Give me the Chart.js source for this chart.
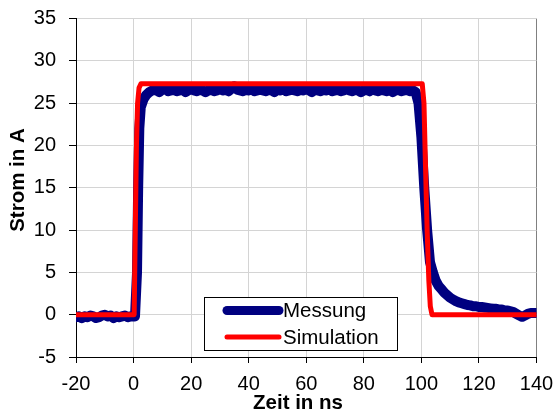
<!DOCTYPE html>
<html>
<head>
<meta charset="utf-8">
<script src="https://cdn.jsdelivr.net/npm/chart.js@4/dist/chart.umd.min.js"></script>
<style>
  body { margin: 0; background: #fff; }
</style>
</head>
<body>
<canvas id="chart" width="553" height="414"></canvas>
<script>
// Messung (gemessener Strom) - Zeit in ns / Strom in A
const messT = [
    -20, -19, -18, -17, -16, -15, -14, -13, -12, -11, -10, -9, -8, -7, -6, -5, -4, -3, -2, -1,
    0.5, 1.2, 1.6, 2, 2.5, 3.5, 4.5, 5.5,
    6, 7, 8, 9, 10, 11, 12, 13, 14, 15,
    16, 17, 18, 19, 20, 21, 22, 23, 24, 25,
    26, 27, 28, 29, 30, 31, 32, 33, 34, 35,
    36, 37, 38, 39, 40, 41, 42, 43, 44, 45,
    46, 47, 48, 49, 50, 51, 52, 53, 54, 55,
    56, 57, 58, 59, 60, 61, 62, 63, 64, 65,
    66, 67, 68, 69, 70, 71, 72, 73, 74, 75,
    76, 77, 78, 79, 80, 81, 82, 83, 84, 85,
    86, 87, 88, 89, 90, 91, 92, 93, 94, 95,
    96, 97, 98, 99, 100, 101, 102, 103, 104, 105,
    106, 107, 108, 109, 110, 111, 112, 113, 114, 115,
    116, 117, 118, 119, 120, 121, 122, 123, 124, 125,
    126, 127, 128, 129, 130, 131, 132, 133, 134, 135,
    136, 137, 138, 139, 140
];
const messA = [
    -0.3, -0.2, -0.4, -0.2, -0.3, -0.1, -0.2, -0.4, -0.3, -0.1, 0.0, -0.2, -0.1, -0.4, -0.2, -0.3, -0.2, -0.1, -0.3, -0.2,
    -0.2, 5, 15, 22, 24.5, 25.5, 26.0, 26.3,
    26.4, 26.6, 26.5, 26.3, 26.6, 26.7, 26.4, 26.5, 26.6, 26.4,
    26.5, 26.6, 26.3, 26.5, 26.7, 26.5, 26.4, 26.6, 26.5, 26.3,
    26.5, 26.6, 26.4, 26.5, 26.7, 26.5, 26.6, 26.4, 26.7, 27.0,
    26.6, 26.5, 26.4, 26.6, 26.5, 26.7, 26.4, 26.5, 26.6, 26.5,
    26.4, 26.6, 26.5, 26.3, 26.6, 26.5, 26.7, 26.4, 26.5, 26.6,
    26.5, 26.4, 26.6, 26.5, 26.7, 26.5, 26.3, 26.6, 26.5, 26.4,
    26.6, 26.5, 26.7, 26.4, 26.5, 26.6, 26.4, 26.5, 26.7, 26.5,
    26.4, 26.6, 26.5, 26.3, 26.5, 26.6, 26.4, 26.7, 26.5, 26.4,
    26.6, 26.5, 26.4, 26.6, 26.3, 26.5, 26.6, 26.4, 26.5, 26.6,
    26.4, 26.5, 26.3, 25.0, 21.0, 15.0, 10.0, 6.2, 5.0, 4.0,
    3.4, 3.0, 2.6, 2.3, 2.0, 1.8, 1.6, 1.45, 1.35, 1.25,
    1.15, 1.1, 1.0, 1.0, 0.9, 0.9, 0.85, 0.8, 0.75, 0.7,
    0.7, 0.6, 0.6, 0.5, 0.5, 0.4, 0.3, 0.1, -0.1, -0.25,
    -0.1, 0.1, 0.2, 0.2, 0.2
];

// Simulation
const simT = [-20, 0.2, 0.6, 1.0, 1.4, 1.9, 2.6, 100.3, 100.9, 101.4, 102.0, 102.6, 103.1, 103.7, 140];
const simA = [0, 0, 10, 20, 25, 26.8, 27.3, 27.3, 25, 18, 10, 4, 1, 0, 0];

const xTicks = [-20, 0, 20, 40, 60, 80, 100, 120, 140];
const yTicks = [-5, 0, 5, 10, 15, 20, 25, 30, 35];

const seriesNames = ["Messung", "Simulation"];
const seriesColors = ["#000080", "#ff0000"];
const xTitle = "Zeit in ns";
const yTitle = "Strom in A";

const FONT = "'Liberation Sans', Arial, sans-serif";

function toPoints(xs, ys) {
    return xs.map((x, i) => ({ x: x, y: ys[i] }));
}

function gridColor(ctx) {
    return ctx.tick && ctx.tick.value === 140 ? "#808080" : "#d4d4d4";
}

// legend box inside the plot + axis titles, like the original
const extras = {
    id: "extras",
    afterDraw(chart) {
        const ctx = chart.ctx;
        const x0 = 204.5, y0 = 297.5, w = 193, h = 53;
        ctx.save();
        ctx.fillStyle = "#fff";
        ctx.fillRect(x0, y0, w, h);
        ctx.strokeStyle = "#000";
        ctx.lineWidth = 1;
        ctx.strokeRect(x0, y0, w, h);
        ctx.lineCap = "round";
        ctx.font = "20.5px " + FONT;
        ctx.textBaseline = "middle";
        ctx.fillStyle = "#000";
        const widths = [9, 5];
        const rows = [310.5, 337];
        seriesNames.forEach((name, i) => {
            ctx.strokeStyle = seriesColors[i];
            ctx.lineWidth = widths[i];
            ctx.beginPath();
            ctx.moveTo(227, rows[i]);
            ctx.lineTo(279, rows[i]);
            ctx.stroke();
            ctx.fillText(name, 283, rows[i] + 1);
        });

        // axis titles
        ctx.font = "bold 20.5px " + FONT;
        ctx.textAlign = "center";
        ctx.fillText(xTitle, 298, 403);
        ctx.translate(18, 180);
        ctx.rotate(-Math.PI / 2);
        ctx.fillText(yTitle, 0, 0);
        ctx.restore();
    }
};

new Chart(document.getElementById("chart"), {
    type: "line",
    data: {
        datasets: [
            {
                label: seriesNames[0],
                data: toPoints(messT, messA),
                borderColor: seriesColors[0],
                borderWidth: 10,
                pointRadius: 0,
                tension: 0,
                borderCapStyle: "round",
                borderJoinStyle: "round",
                order: 2
            },
            {
                label: seriesNames[1],
                data: toPoints(simT, simA),
                borderColor: seriesColors[1],
                borderWidth: 5,
                pointRadius: 0,
                tension: 0,
                borderCapStyle: "round",
                borderJoinStyle: "round",
                order: 1
            }
        ]
    },
    options: {
        responsive: false,
        animation: false,
        devicePixelRatio: 1,
        layout: { padding: { top: 18.5, right: 16.5, left: 0, bottom: 0 } },
        plugins: {
            legend: { display: false },
            tooltip: { enabled: false }
        },
        scales: {
            x: {
                type: "linear",
                min: -20,
                max: 140,
                afterBuildTicks: s => { s.ticks = xTicks.map(v => ({ value: v })); },
                afterFit: s => { s.height = 57; s.paddingLeft = 0; s.paddingRight = 0; },
                ticks: { color: "#000", font: { family: FONT, size: 20 }, padding: 9, maxRotation: 0 },
                grid: { color: gridColor, tickColor: "#000", tickLength: 6 },
                border: { color: "#000", width: 1 },
                title: { display: false }
            },
            y: {
                min: -5,
                max: 35,
                afterBuildTicks: s => { s.ticks = yTicks.map(v => ({ value: v })); },
                afterFit: s => { s.width = 76; s.paddingTop = 0; s.paddingBottom = 0; },
                ticks: { color: "#000", font: { family: FONT, size: 20 }, padding: 13 },
                grid: { color: "#d4d4d4", tickColor: "#000", tickLength: 7 },
                border: { color: "#000", width: 1 },
                title: { display: false }
            }
        }
    },
    plugins: [extras]
});
</script>
</body>
</html>
